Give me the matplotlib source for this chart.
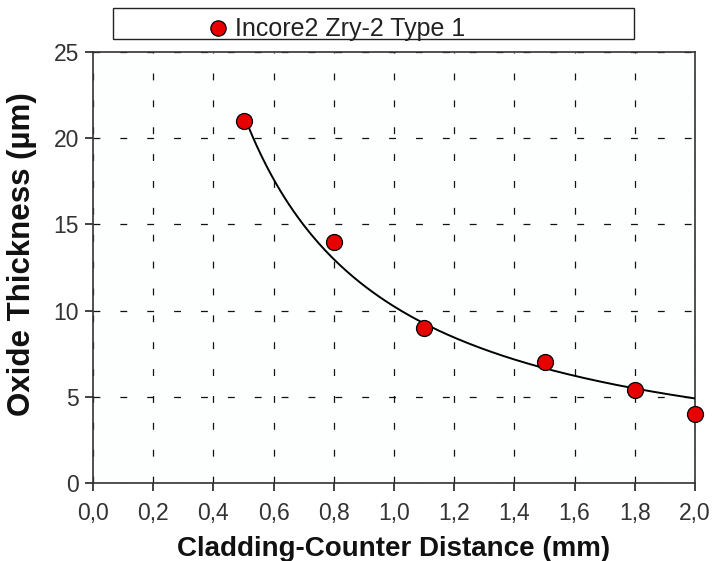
import matplotlib
matplotlib.use("Agg")
import matplotlib.pyplot as plt
import numpy as np
from matplotlib.lines import Line2D
from matplotlib.patches import Rectangle

# data
distance_mm = [0.5, 0.8, 1.1, 1.5, 1.8, 2.0]
oxide_um = [21.0, 14.0, 9.0, 7.0, 5.4, 4.0]
series_label = "Incore2 Zry-2 Type 1"
x_ticks = [0.0, 0.2, 0.4, 0.6, 0.8, 1.0, 1.2, 1.4, 1.6, 1.8, 2.0]
y_ticks = [0, 5, 10, 15, 20, 25]


def power_fit(x, y):
    # least squares fit of y = a * x**b on the linear scale
    x = np.asarray(x)
    y = np.asarray(y)
    best = None
    for b in np.linspace(-3, 0, 3001):
        xb = x ** b
        a = np.sum(y * xb) / np.sum(xb * xb)
        err = np.sum((y - a * xb) ** 2)
        if best is None or err < best[2]:
            best = (a, b, err)
    return best[0], best[1]


plt.rcParams["font.family"] = ["Liberation Sans", "DejaVu Sans"]

fig = plt.figure(figsize=(7.14, 5.61), dpi=100)
ax = fig.add_axes([0.1303, 0.139, 0.8431, 0.7683])
ax.set_facecolor("#fdfefe")

a, b = power_fit(distance_mm, oxide_um)
xs = np.linspace(min(distance_mm), max(distance_mm), 200)
ax.plot(xs, a * xs ** b, color="black", lw=1.4, zorder=3)

ax.plot(distance_mm, oxide_um, "o", ms=11.5, mfc="#e60000", mec="black",
        mew=0.9, zorder=4, clip_on=False)

ax.set_xlim(0, 2.0)
ax.set_ylim(0, 25)
ax.set_xticks(x_ticks)
ax.set_xticklabels([f"{v:.1f}".replace(".", ",") for v in x_ticks])
ax.set_yticks(y_ticks)

ax.grid(True, color="#111111", lw=0.9, linestyle=(0, (5.5, 16)))
ax.tick_params(direction="out", length=6, width=1.2, labelsize=16.5,
               labelcolor="#333333", color="#222222", pad=4)
ax.tick_params(axis="x", pad=8)
for sp in ax.spines.values():
    sp.set_linewidth(1.2)
    sp.set_color("#333333")

ax.set_xlabel("Cladding-Counter Distance (mm)", fontsize=20,
              fontweight="bold", color="#111111")
ax.set_ylabel("Oxide Thickness (µm)", fontsize=22.5, fontweight="bold",
              color="#111111")
ax.xaxis.set_label_coords(0.5, -0.153)
ax.xaxis.label.set_va("center")
ax.yaxis.set_label_coords(-0.118, 0.531)
ax.yaxis.label.set_va("center")

# legend box above the axes
fig.add_artist(Rectangle((113 / 714, 1 - 39 / 561), 521 / 714, 31 / 561,
                         transform=fig.transFigure, facecolor="white",
                         edgecolor="#222222", lw=1.0))
fig.add_artist(Line2D([218 / 714], [1 - 28 / 561], marker="o", ms=11,
                      mfc="#e60000", mec="black", mew=0.9,
                      transform=fig.transFigure))
fig.text(235 / 714, 1 - 36 / 561, series_label, fontsize=18,
         color="#222222", va="baseline", ha="left")

fig.savefig("out.png", dpi=100)
